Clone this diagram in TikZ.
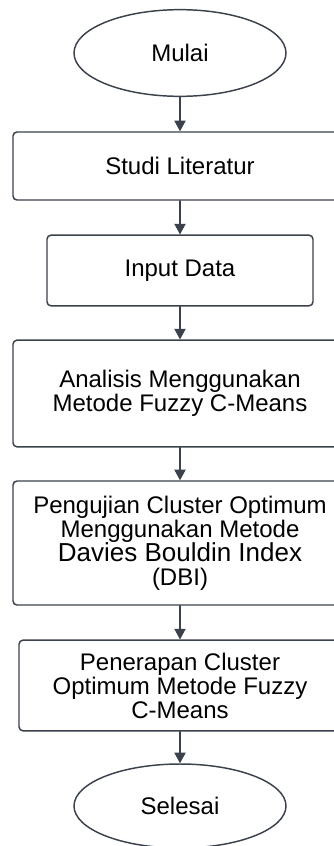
\documentclass[tikz,border=0pt]{standalone}
\usepackage{fontspec}
\setmainfont{Liberation Sans}
\usepackage{xcolor}
\usetikzlibrary{shapes.geometric}
\usetikzlibrary{arrows.meta}
\definecolor{garisabu}{HTML}{3B424C}
\tikzset{
  terminal/.style={draw=garisabu, ellipse, line width=1.1pt, inner sep=0pt, font=\fontsize{18}{18}\selectfont},
  proses/.style={draw=garisabu, rectangle, rounded corners=3pt, line width=1.1pt, inner sep=0pt, align=center, font=\fontsize{18}{18}\selectfont},
  alur/.style={->, draw=garisabu, line width=0.8pt}
}
\begin{document}
\begin{tikzpicture}[line cap=round,line join=round,>={Triangle[length=8pt,width=8.5pt]},x=0.75pt,y=-0.75pt]
\useasboundingbox (0,0) rectangle (334,846);
\clip (0,0) rectangle (334,846);
\node[terminal, minimum width=159pt, minimum height=65pt] (mulai) at (180,53) {Mulai};
\node[proses, minimum width=250.5pt, minimum height=51pt] (studi) at (180,166) {Studi Literatur};
\node[proses, minimum width=199.5pt, minimum height=53pt] (input) at (180,270.5) {Input Data};
\node[proses, minimum width=250.5pt, minimum height=80pt] (analisis) at (180,393.5) {Analisis Menggunakan\\Metode Fuzzy C-Means};
\node[proses, minimum width=250.5pt, minimum height=93pt] (uji) at (180,543) {Pengujian Cluster Optimum\\Menggunakan Metode\\{\fontsize{19.5}{18}\selectfont Davies Bouldin Index}\\(DBI)};
\node[proses, minimum width=241.5pt, minimum height=68pt] (terap) at (180,685.5) {Penerapan Cluster\\Optimum Metode Fuzzy\\C-Means};
\node[terminal, minimum width=159pt, minimum height=63pt] (selesai) at (180,806) {Selesai};
% panah alur
\draw[alur] (mulai.south) -- (studi.north);
\draw[alur] (studi.south) -- (input.north);
\draw[alur] (input.south) -- (analisis.north);
\draw[alur] (analisis.south) -- (uji.north);
\draw[alur] (uji.south) -- (terap.north);
\draw[alur] (terap.south) -- (selesai.north);
\end{tikzpicture}
\end{document}
